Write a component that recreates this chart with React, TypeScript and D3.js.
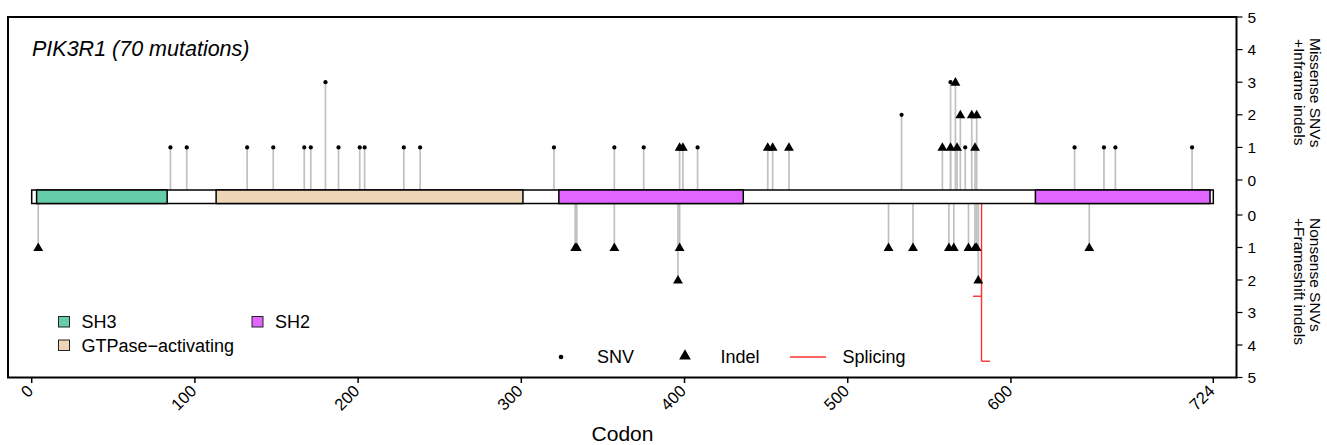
import React from "react";
import * as d3 from "d3";

// ---------- data ----------
const geneName = "PIK3R1";
const mutationTotal = 70;
const proteinLength = 724;

const domainNames = ["SH3", "GTPase-activating", "SH2", "SH2"];
const domainStart = [3, 113, 323, 615];
const domainEnd = [83, 301, 436, 722];

const legendDomains = ["SH3", "SH2", "GTPase\u2212activating"];

// Missense SNVs + inframe indels (above the protein)
const topCodons = [85, 95, 132, 148, 167, 171, 180, 188, 201, 204, 228, 238, 320, 357, 375, 397, 399, 408, 451, 454, 464, 533, 558, 563, 563, 566, 567, 569, 572, 576, 578, 579, 639, 657, 664, 711];
const topCounts = [1, 1, 1, 1, 1, 1, 3, 1, 1, 1, 1, 1, 1, 1, 1, 1, 1, 1, 1, 1, 1, 2, 1, 1, 3, 3, 1, 2, 1, 2, 1, 2, 1, 1, 1, 1];
const topTypes = ["SNV", "SNV", "SNV", "SNV", "SNV", "SNV", "SNV", "SNV", "SNV", "SNV", "SNV", "SNV", "SNV", "SNV", "SNV", "Indel", "Indel", "SNV", "Indel", "Indel", "Indel", "SNV", "Indel", "Indel", "SNV", "Indel", "Indel", "Indel", "SNV", "Indel", "Indel", "Indel", "SNV", "SNV", "SNV", "SNV"];

// Nonsense SNVs + frameshift indels (below the protein)
const botCodons = [4, 333, 334, 357, 396, 397, 525, 540, 562, 565, 574, 578, 579, 580, 648];
const botCounts = [1, 1, 1, 1, 2, 1, 1, 1, 1, 1, 1, 1, 1, 2, 1];
const botTypes = ["Indel", "Indel", "Indel", "Indel", "Indel", "Indel", "Indel", "Indel", "Indel", "Indel", "Indel", "Indel", "Indel", "Indel", "Indel"];

// Splicing
const spliceCodons = [582];
const spliceLevels = [2.5, 4.5];

const xTicks = [0, 100, 200, 300, 400, 500, 600, 724];
const yTicks = [0, 1, 2, 3, 4, 5];
const typeLegend = ["SNV", "Indel", "Splicing"];

// ---------- styles ----------
const domainColor: Record<string, string> = {
  SH3: "#66cdaa",
  "GTPase-activating": "#eed5b7",
  "GTPase\u2212activating": "#eed5b7",
  SH2: "#e066ff",
};
const FONT = "'Liberation Sans', Arial, Helvetica, sans-serif";
const STEM = "#c0c0c0";
const RED = "#ff3030";

export default function App() {
  const x = d3.scaleLinear().domain([0, proteinLength]).range([31.7, 1213.3]);
  const yTop = d3.scaleLinear().domain([0, 5]).range([180, 17]);
  const yBot = d3.scaleLinear().domain([0, 5]).range([215, 377.5]);
  const box = { l: 8, t: 17, r: 1236.5, b: 377.5 };
  const barTop = 190;
  const barBot = 203.5;
  const triPath = d3.symbol().type(d3.symbolTriangle).size(42)() as string;

  const top = topCodons.map((c, i) => ({ c, n: topCounts[i], t: topTypes[i] }));
  const bot = botCodons.map((c, i) => ({ c, n: botCounts[i], t: botTypes[i] }));

  const marker = (t: string, cx: number, cy: number, key: string) =>
    t === "SNV" ? (
      <circle key={key} cx={cx} cy={cy} r={2.1} fill="#000" />
    ) : (
      <path key={key} d={triPath} transform={`translate(${cx},${cy + 0.6})`} fill="#000" />
    );

  return (
    <svg
      width={1327}
      height={445}
      style={{ position: "absolute", left: 0, top: 0, background: "#fff" }}
      fontFamily={FONT}
    >
      {/* title */}
      <text x={32} y={56} fontSize={21.5} fontStyle="italic" fill="#000">
        {`${geneName} (${mutationTotal} mutations)`}
      </text>

      {/* stems */}
      {top.map((d, i) => (
        <line key={"ts" + i} x1={x(d.c)} x2={x(d.c)} y1={barTop} y2={yTop(d.n)} stroke={STEM} strokeWidth={1.7} />
      ))}
      {bot.map((d, i) => (
        <line key={"bs" + i} x1={x(d.c)} x2={x(d.c)} y1={barBot} y2={yBot(d.n)} stroke={STEM} strokeWidth={1.7} />
      ))}

      {/* splicing */}
      {spliceCodons.map((c, i) => {
        const maxL = d3.max(spliceLevels) as number;
        return (
          <g key={"sp" + i}>
            <line x1={x(c)} x2={x(c)} y1={barBot} y2={yBot(maxL)} stroke={RED} strokeWidth={1.4} />
            {spliceLevels.map((lv, j) => (
              <line
                key={j}
                x1={x(c)}
                x2={x(c) + (j % 2 === 0 ? -8.5 : 8.5)}
                y1={yBot(lv)}
                y2={yBot(lv)}
                stroke={RED}
                strokeWidth={1.4}
              />
            ))}
          </g>
        );
      })}

      {/* protein bar */}
      <rect x={x(0)} y={barTop} width={x(proteinLength) - x(0)} height={barBot - barTop} fill="#fff" stroke="#000" strokeWidth={1.5} />
      {domainNames.map((n, i) => (
        <rect
          key={"d" + i}
          x={x(domainStart[i])}
          y={barTop}
          width={x(domainEnd[i]) - x(domainStart[i])}
          height={barBot - barTop}
          fill={domainColor[n]}
          stroke="#000"
          strokeWidth={1.5}
        />
      ))}

      {/* markers */}
      {top.map((d, i) => marker(d.t, x(d.c), yTop(d.n), "tm" + i))}
      {bot.map((d, i) => marker(d.t, x(d.c), yBot(d.n), "bm" + i))}

      {/* box */}
      <rect x={box.l} y={box.t} width={box.r - box.l} height={box.b - box.t} fill="none" stroke="#000" strokeWidth={2} />

      {/* right axes */}
      {yTicks.map((t) => (
        <g key={"yt" + t}>
          <line x1={box.r} x2={box.r + 6} y1={yTop(t)} y2={yTop(t)} stroke="#000" strokeWidth={1.2} />
          <text x={box.r + 11} y={yTop(t)} dy="0.36em" fontSize={15.5} fill="#000">
            {t}
          </text>
          <line x1={box.r} x2={box.r + 6} y1={yBot(t)} y2={yBot(t)} stroke="#000" strokeWidth={1.2} />
          <text x={box.r + 11} y={yBot(t)} dy="0.36em" fontSize={15.5} fill="#000">
            {t}
          </text>
        </g>
      ))}
      <g fontSize={15.5} fill="#000">
        <text transform="translate(1310,38) rotate(90)">Missense SNVs</text>
        <text transform="translate(1294,39) rotate(90)">+Inframe indels</text>
        <text transform="translate(1310,218) rotate(90)">Nonsense SNVs</text>
        <text transform="translate(1294,218) rotate(90)">+Frameshift indels</text>
      </g>

      {/* x axis */}
      {xTicks.map((t) => (
        <g key={"xt" + t}>
          <line x1={x(t)} x2={x(t)} y1={box.b} y2={box.b + 5.5} stroke="#000" strokeWidth={1.5} />
          <text
            transform={`translate(${x(t) + 2.5},392) rotate(-45)`}
            textAnchor="end"
            fontSize={16.5}
            fill="#000"
          >
            {t}
          </text>
        </g>
      ))}
      <text x={(x(0) + x(proteinLength)) / 2} y={441} textAnchor="middle" fontSize={21} fill="#000">
        Codon
      </text>

      {/* domain legend */}
      {legendDomains.map((n, i) => {
        const lx = i === 1 ? 252 : 58.5;
        const ly = i === 2 ? 340 : 316.5;
        return (
          <g key={"ld" + i}>
            <rect x={lx} y={ly} width={11} height={10.5} fill={domainColor[n]} stroke="#222" strokeWidth={1} />
            <text x={lx + 23} y={ly + 5.5} dy="0.36em" fontSize={18} fill="#000">
              {n}
            </text>
          </g>
        );
      })}

      {/* mutation type legend */}
      {typeLegend.map((n, i) => {
        const lx = [561, 685, 808][i];
        const ly = 357;
        return (
          <g key={"lt" + i}>
            {n === "SNV" && <circle cx={lx} cy={ly} r={2.3} fill="#000" />}
            {n === "Indel" && <path d={d3.symbol().type(d3.symbolTriangle).size(60)() as string} transform={`translate(${lx},${ly - 1})`} fill="#000" />}
            {n === "Splicing" && <line x1={lx - 18} x2={lx + 18} y1={ly} y2={ly} stroke={RED} strokeWidth={1.4} />}
            <text x={[597, 720.5, 842.5][i]} y={ly} dy="0.36em" fontSize={18} fill="#000">
              {n}
            </text>
          </g>
        );
      })}
    </svg>
  );
}
